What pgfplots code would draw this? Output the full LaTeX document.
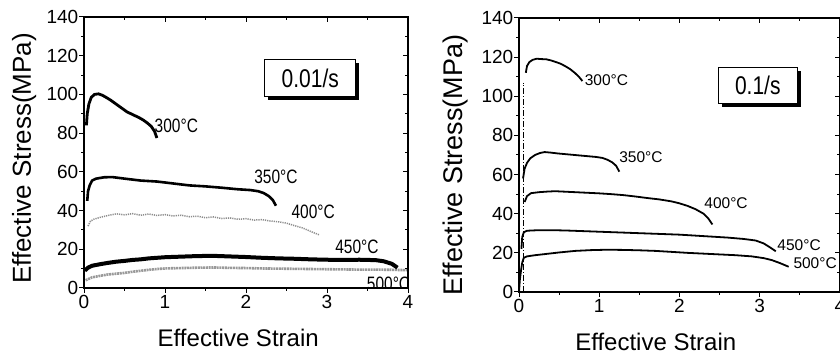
\documentclass[border=0pt]{standalone}
\usepackage{fontspec}
\setmainfont{Liberation Sans}
\usepackage{graphicx}
\usepackage{pgfplots}
\pgfplotsset{compat=1.18}
\usetikzlibrary{shadows}
\newcommand{\tickfont}{\fontsize{19}{21}\selectfont}
\pgfplotsset{
  panel/.style={
    scale only axis, xmin=0, xmax=4, ymin=0, ymax=140,
    xtick={0,1,2,3,4}, ytick={0,20,40,60,80,100,120,140},
    minor x tick num=1, minor y tick num=1,
    tick align=outside, xtick pos=left, ytick pos=left,
    axis line style={line width=1.1pt},
    major tick length=5pt, minor tick length=3pt,
    every tick/.style={black, line width=1pt},
    yticklabel style={font=\tickfont, inner sep=0.5pt},
    xticklabel style={font=\tickfont, inner sep=2pt},
    xticklabel={\tickfont\pgfmathprintnumber[assume math mode=true]{\tick}},
    yticklabel={\tickfont\pgfmathprintnumber[assume math mode=true]{\tick}},
  },
  mirror/.style={
    scale only axis, xmin=0, xmax=4, ymin=0, ymax=140,
    xtick={0,1,2,3,4}, ytick={0,20,40,60,80,100,120,140},
    minor x tick num=1, minor y tick num=1,
    tick align=inside, xtick pos=right, ytick pos=right,
    xticklabels={}, yticklabels={},
    axis line style={line width=1.1pt},
    major tick length=5pt, minor tick length=3pt,
    every tick/.style={black, line width=1pt},
  },
}
\tikzset{tl/.style={font=\fontsize{15.5}{17}\selectfont, inner sep=0pt}}
\newcommand{\Lt}[1]{\scalebox{1}[1.25]{#1}}
\begin{document}
\begin{tikzpicture}
\useasboundingbox (0,0) rectangle (840pt,358pt);
% ================= LEFT PANEL =================
\begin{axis}[panel, at={(84pt,70pt)}, anchor=south west, width=324pt, height=271pt,
  xlabel={Effective Strain}, ylabel={Effective Stress(MPa)},
  xlabel style={font=\fontsize{24}{26}\selectfont, at={(axis description cs:0.476,-0.183)}, anchor=center},
  ylabel style={font=\fontsize{26}{28}\selectfont, at={(axis description cs:-0.185,0.478)}, anchor=center}]
% 500 C (gray)
\addplot[black!40, line width=2.6pt, dash pattern=on 2pt off 0.7pt] coordinates {
(0.02,4) (0.1,5.5) (0.2,6.3) (0.3,7) (0.4,7.4) (0.5,7.8) (0.6,8.4) (0.7,8.9) (0.8,9.4)
(0.9,9.8) (1.0,10.1) (1.2,10.3) (1.4,10.5) (1.6,10.6) (1.8,10.4) (2.0,10.3) (2.2,10.1)
(2.4,10) (2.6,9.9) (2.8,9.8) (3.0,9.7) (3.2,9.6) (3.4,9.5) (3.6,9.5) (3.8,9.4) (4.0,9.2)};
% 450 C
\addplot[black, line width=4pt] coordinates {
(0.01,9) (0.05,10.5) (0.1,11.5) (0.2,12.3) (0.3,13) (0.4,13.6) (0.5,14) (0.6,14.5)
(0.7,14.8) (0.8,15.3) (0.9,15.6) (1.0,15.9) (1.2,16.2) (1.4,16.5) (1.6,16.6) (1.8,16.3)
(2.0,16) (2.2,15.6) (2.4,15.3) (2.6,15.1) (2.8,14.8) (3.0,14.6) (3.2,14.5) (3.4,14.6)
(3.6,14.4) (3.7,13.8) (3.8,12.5) (3.87,10.5)};
% 400 C (gray dotted)
\addplot[black!45, line width=1.5pt, dash pattern=on 1.2pt off 1pt] coordinates {
(0.05,32) (0.08,34.5) (0.12,35.5) (0.2,36.5) (0.3,37.5) (0.4,38.3) (0.5,37.8) (0.6,38.4)
(0.7,37.6) (0.8,38.2) (0.9,37.5) (1.0,37.9) (1.1,37.2) (1.2,37.6) (1.3,36.8) (1.4,37.1)
(1.5,36.3) (1.6,36.7) (1.7,35.9) (1.8,36.2) (1.9,35.5) (2.0,35.8) (2.1,35.1) (2.2,35.3)
(2.3,34.6) (2.4,34.2) (2.5,33.5) (2.6,32.2) (2.7,31) (2.8,29.2) (2.9,27.5)};
% 350 C
\addplot[black, line width=2.6pt] coordinates {
(0.04,45) (0.05,50) (0.07,53) (0.1,55.5) (0.15,56.5) (0.25,57.2) (0.35,57.3) (0.5,56.5)
(0.7,55.5) (0.9,55) (1.1,54) (1.3,53) (1.5,52.5) (1.7,51.8) (1.9,51) (2.05,50.6)
(2.15,50) (2.22,49) (2.28,47.5) (2.33,45.5) (2.37,42.5)};
% 300 C
\addplot[black, line width=2.8pt] coordinates {
(0.03,84) (0.04,90) (0.06,95) (0.09,98.5) (0.13,100) (0.18,100.3) (0.23,99.5) (0.28,98.3)
(0.33,97) (0.38,95.5) (0.43,94) (0.48,92.5) (0.53,91) (0.58,90) (0.63,89) (0.68,88)
(0.73,86.8) (0.78,85.3) (0.83,83.5) (0.87,81) (0.9,77.5)};
\node[tl] at (axis cs:1.14,83.7) {\Lt{300°C}};
\node[tl] at (axis cs:2.37,57.5) {\Lt{350°C}};
\node[tl] at (axis cs:2.83,39.4) {\Lt{400°C}};
\node[tl] at (axis cs:3.37,21.3) {\Lt{450°C}};
\node[tl] at (axis cs:3.76,2.0) {\Lt{500°C}};
\end{axis}
\begin{axis}[mirror, at={(84pt,70pt)}, anchor=south west, width=324pt, height=271pt]
\end{axis}
% ================= RIGHT PANEL =================
\begin{axis}[panel, at={(519pt,66pt)}, anchor=south west, width=321pt, height=274pt,
  xlabel={Effective Strain}, ylabel={Effective Stress(MPa)},
  xlabel style={font=\fontsize{24}{26}\selectfont, at={(axis description cs:0.426,-0.184)}, anchor=center},
  ylabel style={font=\fontsize{27}{29}\selectfont, at={(axis description cs:-0.197,0.463)}, anchor=center}]
% elastic loading (dash-dot)
\addplot[black, line width=1pt, dash pattern=on 6pt off 2pt on 1pt off 2pt] coordinates {(0.055,0) (0.055,107)};
% 500 C
\addplot[black, line width=1.8pt] coordinates {
(0.0,0) (0.01,6) (0.025,11) (0.04,15) (0.06,17.5) (0.1,18.2) (0.2,18.8) (0.35,19.5)
(0.5,20.2) (0.7,21) (0.9,21.4) (1.1,21.6) (1.3,21.5) (1.5,21.3) (1.7,21) (1.9,20.5)
(2.1,20) (2.3,19.6) (2.5,19.2) (2.7,18.8) (2.9,18.2) (3.05,17.3) (3.15,16.3) (3.25,14.8) (3.36,12.9)};
% 450 C
\addplot[black, line width=1.8pt] coordinates {
(0.03,22) (0.04,28) (0.06,30.5) (0.1,31.3) (0.2,31.5) (0.4,31.6) (0.6,31.4) (0.8,31.1)
(1.0,30.8) (1.2,30.5) (1.4,30.2) (1.6,29.9) (1.8,29.6) (2.0,29.3) (2.2,28.8) (2.4,28.3)
(2.6,27.8) (2.8,27.1) (2.95,26.3) (3.05,24.8) (3.12,23) (3.2,20.8)};
% 400 C
\addplot[black, line width=1.8pt] coordinates {
(0.07,46) (0.1,49) (0.15,50.5) (0.25,51) (0.35,51.3) (0.45,51.5) (0.55,51.3) (0.7,51)
(0.85,50.7) (1.0,50.4) (1.15,50) (1.3,49.5) (1.45,48.8) (1.6,48) (1.75,47.3) (1.9,46.3)
(2.0,45.3) (2.1,44) (2.2,42.3) (2.3,40) (2.36,37.5) (2.41,34.5)};
% 350 C
\addplot[black, line width=1.8pt] coordinates {
(0.05,58) (0.07,63) (0.1,66) (0.14,68.3) (0.2,70) (0.26,71) (0.32,71.5) (0.4,71.2)
(0.48,70.8) (0.56,70.5) (0.64,70.2) (0.72,69.9) (0.8,69.6) (0.88,69.3) (0.96,69)
(1.04,68.5) (1.1,67.6) (1.16,66.3) (1.21,64.5) (1.25,61.5)};
% 300 C
\addplot[black, line width=1.8pt] coordinates {
(0.085,112) (0.1,115.5) (0.13,117.5) (0.17,118.6) (0.22,119.2) (0.28,119) (0.34,118.9)
(0.4,118.3) (0.46,117.5) (0.52,116.6) (0.58,115.3) (0.64,113.8) (0.7,111.8) (0.75,109.8) (0.79,107.8)};
\node[tl] at (axis cs:1.09,108.3) {300°C};
\node[tl] at (axis cs:1.52,69.1) {350°C};
\node[tl] at (axis cs:2.58,45.3) {400°C};
\node[tl] at (axis cs:3.49,24.0) {450°C};
\node[tl] at (axis cs:3.69,14.7) {500°C};
\end{axis}
\begin{axis}[mirror, at={(519pt,66pt)}, anchor=south west, width=321pt, height=274pt]
\end{axis}
% ================= RATE BOXES =================
\node[draw, line width=1pt, fill=white, minimum width=90.7pt, minimum height=36.7pt, inner sep=0pt,
  drop shadow={shadow xshift=3.5pt, shadow yshift=-3.5pt, opacity=1, fill=black}]
  at (310.3pt,279.7pt) {\fontsize{21}{24}\selectfont\scalebox{1}[1.22]{0.01/s}};
\node[draw, line width=1pt, fill=white, minimum width=79pt, minimum height=36pt, inner sep=0pt,
  drop shadow={shadow xshift=3.5pt, shadow yshift=-3.5pt, opacity=1, fill=black}]
  at (757.8pt,272.7pt) {\fontsize{21}{24}\selectfont\scalebox{1}[1.22]{0.1/s}};
\end{tikzpicture}
\end{document}
